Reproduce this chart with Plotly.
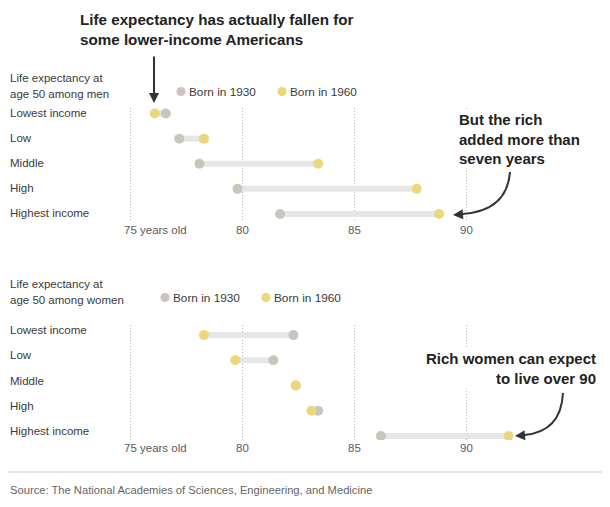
import plotly.graph_objects as go

categories = ["Lowest income", "Low", "Middle", "High", "Highest income"]
men_1930 = [76.6, 77.2, 78.1, 79.8, 81.7]
men_1960 = [76.1, 78.3, 83.4, 87.8, 88.8]
women_1930 = [82.3, 81.4, 82.4, 83.4, 86.2]
women_1960 = [78.3, 79.7, 82.4, 83.1, 91.9]
tick_values = [75, 80, 85, 90]
tick_labels = ["75 years old", "80", "85", "90"]
series_names = ["Born in 1930", "Born in 1960"]

# the page body adds an 8px offset
OFF = 8
W, H = 610, 507
GRAY = "#c8c5bd"
YELLOW = "#ecd77c"
BAR = "#e6e6e6"
FONT = "Liberation Sans"
DARK = "#222222"
TEXT = "#3a3a3a"
TICK = "#5a5a5a"


def px(x):
    return (x - OFF) / W


def py(y):
    return 1 - (y - OFF) / H


fig = go.Figure()


def add_panel(v1930, v1960, xa, ya):
    xs, ys = [], []
    for c, a, b in zip(categories, v1930, v1960):
        xs += [a, b, None]
        ys += [c, c, None]
    fig.add_trace(go.Scatter(x=xs, y=ys, mode="lines", line=dict(color=BAR, width=6),
                             xaxis=xa, yaxis=ya, hoverinfo="skip", showlegend=False))
    fig.add_trace(go.Scatter(x=v1930, y=categories, mode="markers",
                             marker=dict(color=GRAY, size=10), name=series_names[0],
                             xaxis=xa, yaxis=ya, showlegend=False))
    fig.add_trace(go.Scatter(x=v1960, y=categories, mode="markers",
                             marker=dict(color=YELLOW, size=10), name=series_names[1],
                             xaxis=xa, yaxis=ya, showlegend=False))


add_panel(men_1930, men_1960, "x", "y")
add_panel(women_1930, women_1960, "x2", "y2")

PPY = 22.4  # pixels per year
xrange = [75 - (130 - OFF) / PPY, 75 + (W - (130 - OFF)) / PPY]
xcommon = dict(range=xrange, domain=[0, 1], tickvals=tick_values, showticklabels=False,
               showgrid=True, gridcolor="#b5b5b5", griddash="1px,2px", gridwidth=1,
               zeroline=False, showline=False, ticks="", fixedrange=True)
ycommon = dict(type="category", categoryorder="array", categoryarray=categories,
               showgrid=False, showticklabels=False, zeroline=False, showline=False,
               ticks="", fixedrange=True)

fig.update_layout(
    width=W, height=H,
    margin=dict(l=0, r=0, t=0, b=0),
    paper_bgcolor="white", plot_bgcolor="white",
    font=dict(family=FONT, color=TEXT),
    xaxis=dict(anchor="y", **xcommon),
    xaxis2=dict(anchor="y2", **xcommon),
    yaxis=dict(anchor="x", domain=[py(221), py(108)], range=[4.28, -0.22], **ycommon),
    yaxis2=dict(anchor="x2", domain=[py(440), py(325)], range=[4.16, -0.4], **ycommon),
    showlegend=False,
)


def text(x, y, s, size=11.5, color=TEXT, anchor="left", bold=False, **kw):
    fig.add_annotation(x=px(x), y=py(y), xref="paper", yref="paper", text=s,
                       showarrow=False, xanchor=anchor, yanchor="middle",
                       font=dict(family=FONT, size=size, color=color,
                                 weight="bold" if bold else "normal"), **kw)


# headline
text(78, 19, "Life expectancy has actually fallen for", size=15.2, color=DARK, bold=True)
text(78, 40, "some lower-income Americans", size=15.2, color=DARK, bold=True)
fig.add_annotation(x=px(154), y=py(103), xref="paper", yref="paper", text="",
                   showarrow=True, ax=0, ay=-48, arrowhead=2, arrowsize=1,
                   arrowwidth=2, arrowcolor="#333")

# panel headers
text(8, 78, "Life expectancy at")
text(8, 94, "age 50 among men")
text(8, 284, "Life expectancy at")
text(8, 300, "age 50 among women")


def legend_dot(cx, cy, color):
    r = 4.6
    fig.add_shape(type="circle", xref="paper", yref="paper",
                  x0=px(cx - r), x1=px(cx + r), y0=py(cy + r), y1=py(cy - r),
                  fillcolor=color, line=dict(width=0))


legend_dot(181, 91.5, GRAY)
text(187, 91.5, series_names[0], size=11.8)
legend_dot(282, 91.5, YELLOW)
text(288, 91.5, series_names[1], size=11.8)
legend_dot(165, 297.5, GRAY)
text(171, 297.5, series_names[0], size=11.8)
legend_dot(266, 297.5, YELLOW)
text(272, 297.5, series_names[1], size=11.8)

# row labels
for c in categories:
    fig.add_annotation(x=px(8), xref="paper", y=c, yref="y", text=c, showarrow=False,
                       xanchor="left", yanchor="middle", yshift=1,
                       font=dict(family=FONT, size=11.5, color=TEXT))
    fig.add_annotation(x=px(8), xref="paper", y=c, yref="y2", text=c, showarrow=False,
                       xanchor="left", yanchor="middle", yshift=5,
                       font=dict(family=FONT, size=11.5, color=TEXT))

# tick labels
for xa, ty in (("x", 229.5), ("x2", 448)):
    for v, t in zip(tick_values, tick_labels):
        first = t != str(v)
        fig.add_annotation(x=v, xref=xa, y=py(ty), yref="paper", text=t, showarrow=False,
                           xanchor="left" if first else "center", xshift=-8 if first else 0,
                           yanchor="middle", font=dict(family=FONT, size=11.5, color=TICK))

# callouts
fig.add_annotation(x=px(457), y=py(139), xref="paper", yref="paper",
                   text="But the rich<br>added more than<br>seven years", showarrow=False,
                   xanchor="left", yanchor="middle", align="left", bgcolor="white",
                   font=dict(family=FONT, size=15, color=DARK, weight="bold"))
fig.add_annotation(x=px(598), y=py(368), xref="paper", yref="paper",
                   text="Rich women can expect<br>to live over 90", showarrow=False,
                   xanchor="right", yanchor="middle", align="right", bgcolor="white",
                   font=dict(family=FONT, size=15, color=DARK, weight="bold"))


def curve(x0, y0, cx, cy, x1, y1):
    fig.add_shape(type="path", xref="paper", yref="paper",
                  path=f"M {px(x0)},{py(y0)} Q {px(cx)},{py(cy)} {px(x1)},{py(y1)}",
                  line=dict(color="#333", width=2))


curve(510, 172, 507, 211, 462, 214)
fig.add_annotation(x=px(453), y=py(215), xref="paper", yref="paper", text="",
                   showarrow=True, ax=12, ay=-1, arrowhead=2, arrowsize=1,
                   arrowwidth=2, arrowcolor="#333")
curve(563, 393, 561, 432, 524, 435)
fig.add_annotation(x=px(515), y=py(436), xref="paper", yref="paper", text="",
                   showarrow=True, ax=12, ay=-1, arrowhead=2, arrowsize=1,
                   arrowwidth=2, arrowcolor="#333")

# separator and source
fig.add_shape(type="line", xref="paper", yref="paper", x0=px(8), x1=px(607),
              y0=py(472), y1=py(472), line=dict(color="#cccccc", width=1))
text(8, 490, "Source: The National Academies of Sciences, Engineering, and Medicine",
     size=11.2, color="#666666")

fig.write_html("out.html")
